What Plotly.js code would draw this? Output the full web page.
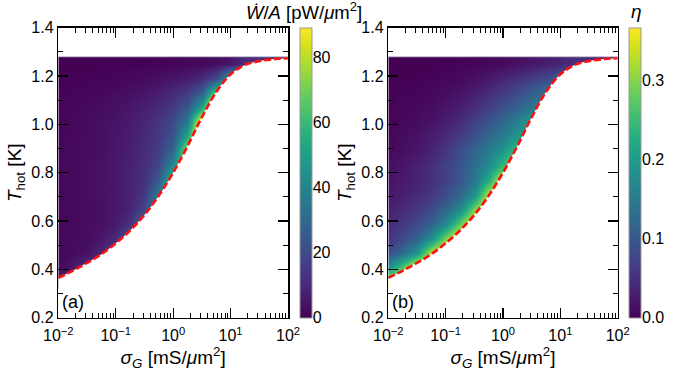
<!DOCTYPE html>
<html><head><meta charset="utf-8">
<script src="https://cdn.plot.ly/plotly-3.0.1.min.js"></script>
<style>html,body{margin:0;padding:0;background:#fff}#chart{width:693px;height:374px}</style>
</head><body><div id="chart"></div>
<script>
// sigma_G grid (mS/um^2), column centres
const sigmaG = [0.01, 0.01778, 0.03162, 0.05623, 0.1, 0.1778, 0.3162, 0.5623, 1, 1.778, 3.162, 5.623, 10, 17.78, 31.62, 56.23, 100];
// T_hot grid (K), row centres
const tHot = [0.35, 0.41, 0.47, 0.53, 0.59, 0.65, 0.71, 0.77, 0.83, 0.89, 0.95, 1.01, 1.07, 1.13, 1.19, 1.25];

// Panel (a): W/A [pW/um^2]
const powerRows = [
  [7,7,7,7,7,7,7,7,7,7,7,7,7,7,7,7,7],
  [2.4,4.9,13,13,13,13,13,13,13,13,13,13,13,13,13,13,13],
  [1.6,2.4,3.9,9.8,17,17,17,17,17,17,17,17,17,17,17,17,17],
  [1.5,2.1,3.1,4.8,10.5,24,24,24,24,24,24,24,24,24,24,24,24],
  [1.3,1.9,2.7,3.9,6.1,13.0,31,31,31,31,31,31,31,31,31,31,31],
  [1.3,1.9,2.6,3.7,5.4,8.6,19.5,41,41,41,41,41,41,41,41,41,41],
  [1.4,2.0,2.8,4.0,5.6,8.3,14.1,37.9,56,56,56,56,56,56,56,56,56],
  [1.5,2.1,2.9,4.1,5.9,8.4,12.7,24.4,65,65,65,65,65,65,65,65,65],
  [1.4,2.0,2.9,4.0,5.6,8.1,11.7,18.8,43.7,87,87,87,87,87,87,87,87],
  [1.3,1.9,2.7,3.8,5.4,7.7,10.9,16.4,30.0,81,81,81,81,81,81,81,81],
  [1.3,1.8,2.6,3.6,5.1,7.2,10.2,14.8,23.7,53.8,112,112,112,112,112,112,112],
  [1.2,1.7,2.4,3.4,4.7,6.7,9.4,13.5,20.2,36.5,99,99,99,99,99,99,99],
  [0.9,1.4,1.9,2.7,3.8,5.3,7.6,10.7,15.5,24.3,53.1,120,120,120,120,120,120],
  [0.6,0.9,1.3,1.8,2.6,3.6,5.1,7.2,10.4,15.2,26.6,72,80,80,80,80,80],
  [0.2,0.4,0.6,0.9,1.2,1.8,2.5,3.5,5.0,7.0,10.6,19.7,53,53,53,53,53],
  [0.1,0.1,0.1,0.2,0.2,0.3,0.5,0.7,1.0,1.4,2.0,2.9,4.7,11.1,12,10,8]
];

// Panel (b): efficiency eta
const etaRows = [
  [0.35,0.35,0.35,0.35,0.35,0.35,0.35,0.35,0.35,0.35,0.35,0.35,0.35,0.35,0.35,0.35,0.35],
  [0.18,0.264,0.375,0.375,0.375,0.375,0.375,0.375,0.375,0.375,0.375,0.375,0.375,0.375,0.375,0.375,0.375],
  [0.085,0.125,0.191,0.335,0.38,0.38,0.38,0.38,0.38,0.38,0.38,0.38,0.38,0.38,0.38,0.38,0.38],
  [0.052,0.081,0.116,0.173,0.287,0.38,0.38,0.38,0.38,0.38,0.38,0.38,0.38,0.38,0.38,0.38,0.38],
  [0.042,0.059,0.081,0.114,0.169,0.28,0.38,0.38,0.38,0.38,0.38,0.38,0.38,0.38,0.38,0.38,0.38],
  [0.032,0.042,0.058,0.080,0.117,0.173,0.290,0.37,0.37,0.37,0.37,0.37,0.37,0.37,0.37,0.37,0.37],
  [0.023,0.032,0.042,0.060,0.084,0.121,0.184,0.328,0.36,0.36,0.36,0.36,0.36,0.36,0.36,0.36,0.36],
  [0.018,0.025,0.035,0.049,0.070,0.098,0.142,0.222,0.36,0.36,0.36,0.36,0.36,0.36,0.36,0.36,0.36],
  [0.014,0.021,0.033,0.048,0.071,0.096,0.133,0.176,0.249,0.33,0.33,0.33,0.33,0.33,0.33,0.33,0.33],
  [0.008,0.014,0.022,0.036,0.057,0.086,0.118,0.153,0.195,0.26,0.26,0.26,0.26,0.26,0.26,0.26,0.26],
  [0.007,0.011,0.018,0.029,0.044,0.066,0.093,0.124,0.155,0.194,0.23,0.23,0.23,0.23,0.23,0.23,0.23],
  [0.004,0.006,0.011,0.018,0.029,0.046,0.070,0.095,0.123,0.159,0.21,0.21,0.21,0.21,0.21,0.21,0.21],
  [0.003,0.005,0.008,0.012,0.020,0.031,0.047,0.068,0.091,0.117,0.146,0.175,0.175,0.175,0.175,0.175,0.175],
  [0.002,0.003,0.004,0.007,0.012,0.019,0.030,0.046,0.064,0.084,0.106,0.140,0.145,0.145,0.145,0.145,0.145],
  [0.001,0.001,0.002,0.003,0.006,0.009,0.015,0.024,0.037,0.050,0.065,0.083,0.11,0.11,0.11,0.11,0.11],
  [0.0003,0.0004,0.0006,0.001,0.0015,0.0025,0.0041,0.0067,0.010,0.016,0.022,0.029,0.037,0.048,0.045,0.040,0.037]
];

// Boundary of the allowed region (red dashed line)
const boundarySigma = [0.01, 0.01778, 0.03162, 0.05623, 0.1, 0.1778, 0.3162, 0.5623, 1, 1.778, 3.162, 5.623, 10, 17.78, 31.62, 56.23, 100];
const boundaryT = [0.365, 0.394, 0.427, 0.463, 0.508, 0.561, 0.625, 0.705, 0.80, 0.91, 1.029, 1.134, 1.207, 1.246, 1.262, 1.270, 1.274];
const tMax = 1.28;

const xTickVals = [0.01, 0.1, 1, 10, 100];
const xTickText = ['10<sup>−2</sup>', '10<sup>−1</sup>', '10<sup>0</sup>', '10<sup>1</sup>', '10<sup>2</sup>'];
const powerTickVals = [0, 20, 40, 60, 80];
const powerMinorVals = [10, 30, 50, 70];
const etaTickVals = [0, 0.1, 0.2, 0.3];
const etaMinorVals = [0.05, 0.15, 0.25, 0.35];
const powerMax = 89.2;
const etaMax = 0.367;

const minorX = [];
for (let e = -2; e < 2; e++) for (let m = 2; m <= 9; m++) minorX.push(m * Math.pow(10, e));

const W = 693, H = 374;
const yDom = [1 - 317.7 / H, 1 - 27.7 / H];
const xDomA = [58.3 / W, 288 / W];
const xDomB = [388.3 / W, 617.7 / W];
const cbA = [300 / W, 311.7 / W];
const cbB = [629.3 / W, 641 / W];

function cbar(x) {
  return {x: x, xanchor: 'left', y: yDom[0], yanchor: 'bottom', len: yDom[1] - yDom[0], lenmode: 'fraction',
    thickness: 11.7, thicknessmode: 'pixels', xpad: 0, ypad: 0, outlinewidth: 1, outlinecolor: '#999',
    ticks: '', showticklabels: false};
}

const traces = [
  {type: 'heatmap', x: sigmaG, y: tHot, z: powerRows, colorscale: 'Viridis', zmin: 0, zmax: powerMax, zsmooth: 'best',
   xaxis: 'x', yaxis: 'y', hoverinfo: 'skip', colorbar: cbar(cbA[0])},
  {type: 'scatter', mode: 'lines', x: boundarySigma, y: boundaryT, fill: 'tozeroy', fillcolor: '#ffffff',
   line: {color: '#ff1010', width: 2.6, dash: '7px,3px', shape: 'spline'}, xaxis: 'x', yaxis: 'y', hoverinfo: 'skip', showlegend: false},
  {type: 'heatmap', x: sigmaG, y: tHot, z: etaRows, colorscale: 'Viridis', zmin: 0, zmax: etaMax, zsmooth: 'best',
   xaxis: 'x2', yaxis: 'y2', hoverinfo: 'skip', colorbar: cbar(cbB[0])},
  {type: 'scatter', mode: 'lines', x: boundarySigma, y: boundaryT, fill: 'tozeroy', fillcolor: '#ffffff',
   line: {color: '#ff1010', width: 2.6, dash: '7px,3px', shape: 'spline'}, xaxis: 'x2', yaxis: 'y2', hoverinfo: 'skip', showlegend: false},
  // empty traces so the colour-bar tick axes exist
  {type: 'scatter', mode: 'lines', x: [], y: [], xaxis: 'x', yaxis: 'y3', hoverinfo: 'skip', showlegend: false},
  {type: 'scatter', mode: 'lines', x: [], y: [], xaxis: 'x2', yaxis: 'y4', hoverinfo: 'skip', showlegend: false}
];

function xax(dom, anchor) {
  return {domain: dom, anchor: anchor, type: 'log', range: [-2, 2], tickmode: 'array', tickvals: xTickVals, ticktext: xTickText,
    ticks: 'inside', ticklen: 10, tickwidth: 1.2, tickcolor: '#000', showline: true, linecolor: '#000', linewidth: 1.5,
    mirror: 'ticks', showgrid: false, zeroline: false, tickfont: {size: 16}, ticklabelstandoff: 3,
    minor: {tickmode: 'array', tickvals: minorX, ticks: 'inside', ticklen: 5, tickwidth: 1, tickcolor: '#000', showgrid: false},
    title: {text: '<i>σ</i><sub><i>G</i></sub> [mS/<i>μ</i>m<sup>2</sup>]', font: {size: 19}, standoff: 2}};
}
function yax(anchor) {
  return {domain: yDom, anchor: anchor, range: [0.2, 1.4], tickmode: 'linear', tick0: 0.2, dtick: 0.2, tickformat: '.1f',
    ticks: 'inside', ticklen: 10, tickwidth: 1.2, tickcolor: '#000', showline: true, linecolor: '#000', linewidth: 1.5,
    mirror: 'ticks', showgrid: false, zeroline: false, tickfont: {size: 16},
    minor: {tick0: 0.2, dtick: 0.1, ticks: 'inside', ticklen: 5, tickwidth: 1, tickcolor: '#000', showgrid: false},
    title: {text: '<i>T</i><sub>hot</sub> [K]', font: {size: 19}, standoff: 4}};
}
function cbax(overlay, pos, max, tv, mv, fmt) {
  return {overlaying: overlay, anchor: 'free', position: pos, side: 'right', range: [0, max],
    tickmode: 'array', tickvals: tv, tickformat: fmt, ticks: 'inside', ticklen: 5, tickwidth: 1, tickcolor: '#222',
    showline: false, showgrid: false, zeroline: false, tickfont: {size: 16},
    minor: {tickmode: 'array', tickvals: mv, ticks: 'inside', ticklen: 3, tickwidth: 1, tickcolor: '#222', showgrid: false}};
}

const layout = {
  width: W, height: H, margin: {l: 0, r: 0, t: 0, b: 0}, paper_bgcolor: '#fff', plot_bgcolor: 'rgba(0,0,0,0)',
  font: {family: 'Liberation Sans, Arial, sans-serif', size: 16, color: '#000'}, showlegend: false,
  xaxis: xax(xDomA, 'y'), yaxis: yax('x'), xaxis2: xax(xDomB, 'y2'), yaxis2: yax('x2'),
  yaxis3: cbax('y', cbA[1], powerMax, powerTickVals, powerMinorVals, 'd'),
  yaxis4: cbax('y2', cbB[1], etaMax, etaTickVals, etaMinorVals, '.1f'),
  shapes: [
    {type: 'line', xref: 'x domain', yref: 'y', x0: 0, x1: 1, y0: tMax, y1: tMax, line: {color: '#c8c8d0', width: 1}},
    {type: 'line', xref: 'x2 domain', yref: 'y2', x0: 0, x1: 1, y0: tMax, y1: tMax, line: {color: '#c8c8d0', width: 1}}
  ],
  annotations: [
    {xref: 'paper', yref: 'paper', x: 304 / W, y: 1 - 11 / H, xanchor: 'center', yanchor: 'middle', showarrow: false,
     text: '<i>Ẇ</i>/<i>A</i> [pW/<i>μ</i>m<sup>2</sup>]', font: {size: 18.5}},
    {xref: 'paper', yref: 'paper', x: 636 / W, y: 1 - 11 / H, xanchor: 'center', yanchor: 'middle', showarrow: false,
     text: '<i>η</i>', font: {size: 19}},
    {xref: 'paper', yref: 'paper', x: 60 / W, y: 1 - 302 / H, xanchor: 'left', yanchor: 'middle', showarrow: false,
     text: '(a)', font: {size: 18}},
    {xref: 'paper', yref: 'paper', x: 390 / W, y: 1 - 302 / H, xanchor: 'left', yanchor: 'middle', showarrow: false,
     text: '(b)', font: {size: 18}}
  ]
};

Plotly.newPlot('chart', traces, layout, {staticPlot: true, displayModeBar: false});
</script></body></html>
